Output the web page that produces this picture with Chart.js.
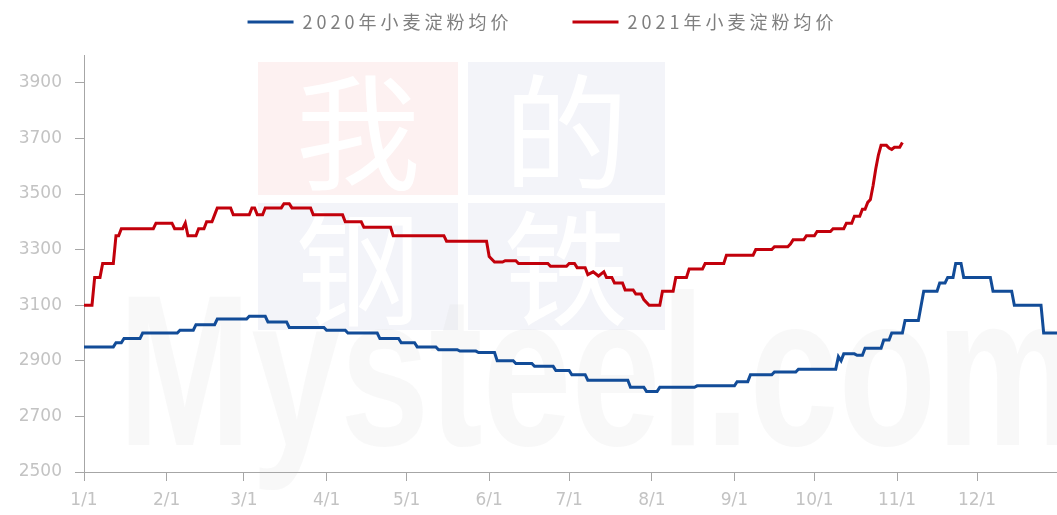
<!DOCTYPE html>
<html><head><meta charset="utf-8">
<script src="https://cdn.jsdelivr.net/npm/chart.js@4/dist/chart.umd.min.js"></script>
<style>html,body{margin:0;padding:0;background:#fff;overflow:hidden}</style>
</head><body>
<canvas id="c" width="1057" height="515" style="display:block;width:1057px;height:515px"></canvas>
<script>
const seriesNames = ['2020年小麦淀粉均价', '2021年小麦淀粉均价'];

// day index within the year (0 = 1/1) and price
const days2020 = [0,11,12,14,15,21,22,35,36,41,42,49,50,61,62,68,69,76,77,90,91,98,99,110,111,118,119,124,125,132,133,140,141,147,148,154,155,161,162,168,169,176,177,182,183,188,189,204,205,210,211,215,216,229,230,244,245,249,250,258,259,267,268,282,283,284,285,289,290,292,293,299,300,302,303,307,308,313,315,320,321,323,324,326,327,329,330,340,341,348,349,359,360,365];
const prices2020 = [2950,2950,2965,2965,2980,2980,3000,3000,3010,3010,3030,3030,3050,3050,3060,3060,3040,3040,3020,3020,3010,3010,3000,3000,2980,2980,2965,2965,2950,2950,2940,2940,2935,2935,2930,2930,2900,2900,2890,2890,2880,2880,2865,2865,2850,2850,2830,2830,2805,2805,2790,2790,2805,2805,2810,2810,2825,2825,2850,2850,2860,2860,2870,2870,2915,2900,2925,2925,2920,2920,2945,2945,2975,2975,3000,3000,3045,3045,3150,3150,3180,3180,3200,3200,3250,3250,3200,3200,3150,3150,3100,3100,3000,3000];

const days2021 = [0,3,4,6,7,11,12,13,14,26,27,33,34,37,38,39,42,43,45,46,48,49,50,55,56,62,63,64,65,67,68,74,75,77,78,85,86,97,98,104,105,115,116,135,136,151,152,154,157,158,162,163,174,175,181,182,184,185,188,189,191,193,195,196,198,199,202,203,206,207,209,210,212,216,217,221,222,226,227,232,233,240,241,251,252,258,259,264,265,266,270,271,274,275,280,281,285,286,288,289,291,292,293,294,295,296,297,298,299,301,302,303,304,306,307];
const prices2021 = [3100,3100,3200,3200,3250,3250,3350,3350,3375,3375,3395,3395,3375,3375,3395,3350,3350,3375,3375,3400,3400,3425,3450,3450,3425,3425,3450,3450,3425,3425,3450,3450,3465,3465,3450,3450,3425,3425,3400,3400,3380,3380,3350,3350,3330,3330,3275,3255,3255,3260,3260,3250,3250,3240,3240,3250,3250,3235,3235,3210,3220,3205,3220,3200,3200,3180,3180,3155,3155,3140,3140,3120,3100,3100,3150,3150,3200,3200,3230,3230,3250,3250,3280,3280,3300,3300,3310,3310,3320,3335,3335,3350,3350,3365,3365,3375,3375,3395,3395,3420,3420,3445,3445,3470,3480,3530,3590,3640,3675,3675,3665,3660,3668,3668,3685];

const monthTickDays = [0,31,60,91,121,152,182,213,244,274,305,335];
const monthTickLabels = ['1/1','2/1','3/1','4/1','5/1','6/1','7/1','8/1','9/1','10/1','11/1','12/1'];
const yTickValues = [2500,2700,2900,3100,3300,3500,3700,3900];

const toPoints = (xs, ys) => xs.map((d, i) => ({x: d, y: ys[i]}));

const watermark = {
  id: 'watermark',
  beforeDraw(chart) {
    const ctx = chart.ctx;
    ctx.save();
    ctx.fillStyle = '#fdf1f1'; ctx.fillRect(258, 62, 200, 133);
    ctx.fillStyle = '#f3f4f9'; ctx.fillRect(468, 62, 197, 133);
    ctx.fillRect(258, 203, 200, 127);
    ctx.fillRect(468, 203, 197, 127);
    ctx.fillStyle = '#ffffff';
    ctx.font = '125px "Noto Sans CJK SC"';
    ctx.textAlign = 'center'; ctx.textBaseline = 'middle';
    ctx.fillText('我', 358, 132); ctx.fillText('的', 566, 132);
    ctx.fillText('钢', 358, 268); ctx.fillText('铁', 566, 268);
    ctx.fillStyle = 'rgba(225,225,225,0.22)';
    ctx.textAlign = 'left'; ctx.textBaseline = 'alphabetic';
    ctx.translate(118, 445); ctx.scale(1, 1.35);
    ctx.font = 'bold 160px "Liberation Sans"';
    ctx.fillText('Mysteel.com', 0, 0);
    ctx.restore();
  }
};

const legendPatch = {
  id: 'legendPatch',
  afterInit(chart) {
    const lg = chart.legend;
    const origFit = lg.fit;
    lg.fit = function () {
      this.ctx.save();
      this.ctx.letterSpacing = '4px';
      origFit.call(this);
      this.ctx.restore();
      this.height = 55;
    };
    const origDraw = lg._draw;
    lg._draw = function () {
      const ctx = this.ctx;
      ctx.save();
      ctx.letterSpacing = '4px';
      ctx.translate(14, 22 - (this.options.labels.padding + 9));
      origDraw.call(this);
      ctx.restore();
    };
  }
};

const tickColor = '#c3c3c3';
const axisColor = '#a6a6a6';

new Chart(document.getElementById('c'), {
  type: 'line',
  data: {
    datasets: [
      {label: seriesNames[0], data: toPoints(days2020, prices2020), borderColor: '#124c98', backgroundColor: '#124c98', borderWidth: 3, pointRadius: 0, tension: 0},
      {label: seriesNames[1], data: toPoints(days2021, prices2021), borderColor: '#c2000b', backgroundColor: '#c2000b', borderWidth: 3, pointRadius: 0, tension: 0}
    ]
  },
  options: {
    responsive: false,
    animation: false,
    devicePixelRatio: 1,
    layout: {padding: 0},
    plugins: {
      tooltip: {enabled: false},
      legend: {
        display: true,
        position: 'top',
        labels: {
          boxWidth: 46, boxHeight: 3, padding: 60,
          color: '#7f7f7f',
          font: {family: '"Noto Sans CJK SC"', size: 18},
          generateLabels(chart) {
            return Chart.defaults.plugins.legend.labels.generateLabels(chart).map(l => ({...l, lineWidth: 0}));
          }
        }
      }
    },
    scales: {
      x: {
        type: 'linear', min: 0, max: 365,
        afterBuildTicks(s) { s.ticks = monthTickDays.map(v => ({value: v})); },
        afterFit(s) { s.height = 43; },
        ticks: {
          autoSkip: false, maxRotation: 0, padding: 9, color: tickColor,
          font: {family: '"DejaVu Sans"', size: 17},
          callback(v, i) { return monthTickLabels[i]; }
        },
        grid: {drawOnChartArea: false, drawTicks: true, tickLength: 9, color: axisColor},
        border: {display: true, color: axisColor, width: 1}
      },
      y: {
        type: 'linear', min: 2500, max: 4000,
        afterBuildTicks(s) { s.ticks = yTickValues.map(v => ({value: v})); },
        afterFit(s) { s.width = 84; },
        ticks: {
          padding: 13, color: tickColor,
          font: {family: '"DejaVu Sans"', size: 17},
          callback(v) { return String(v); }
        },
        grid: {drawOnChartArea: false, drawTicks: true, tickLength: 9, color: axisColor},
        border: {display: true, color: axisColor, width: 1}
      }
    }
  },
  plugins: [watermark, legendPatch]
});
</script>
</body></html>
